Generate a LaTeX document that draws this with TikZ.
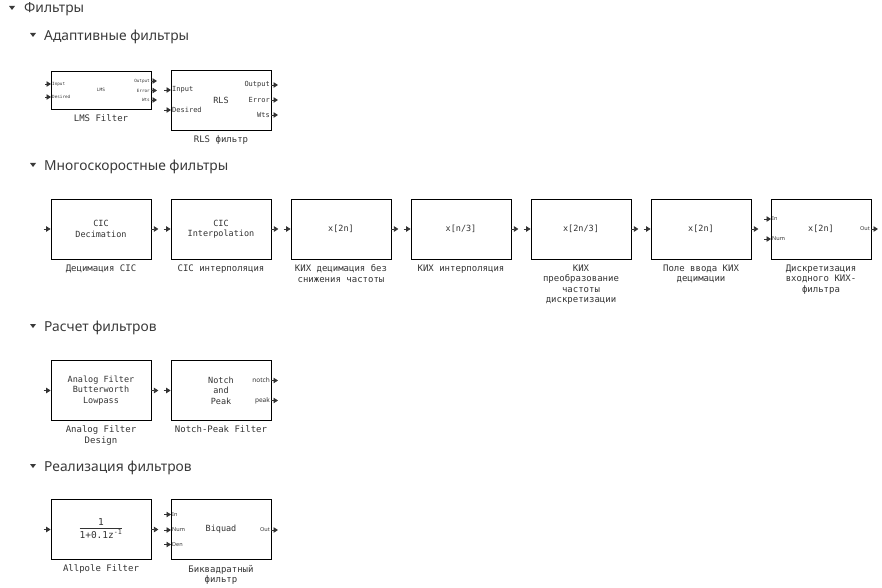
\documentclass[tikz,border=0pt]{standalone}
\usepackage{fontspec}
\usepackage{xcolor}
\usepackage{tikz}
\usetikzlibrary{arrows.meta,positioning}
\setmonofont{DejaVu Sans Mono}
\newfontfamily\headfont{Noto Sans}
\newfontfamily\pinfont{Noto Sans}
\definecolor{fbInk}{HTML}{333333}
\definecolor{fbHead}{HTML}{3A3A3A}
\tikzset{
  fb diagram/.style={x=1pt, y=-1pt, text=fbInk,
    line cap=butt, line join=miter},
  fb head/.style={font=\headfont\fontsize{13.8}{16}\selectfont, text=fbHead,
    anchor=west, inner sep=0pt},
  fb mark/.style={fill=fbHead},
  fb box/.style={draw=black, fill=white, line width=0.8pt,
    minimum width=100pt, minimum height=60pt, inner sep=0pt,
    align=center, font=\ttfamily\fontsize{8.5}{10.5}\selectfont},
  fb caption/.style={font=\ttfamily\fontsize{9}{10.6}\selectfont,
    align=center, inner sep=0pt},
  fb pin/.style={font=\ttfamily\fontsize{7}{8}\selectfont, inner sep=1pt},
  fb tiny pin/.style={font=\ttfamily\fontsize{4.3}{5}\selectfont, inner sep=1pt},
  fb small pin/.style={font=\pinfont\fontsize{5.5}{6}\selectfont, inner sep=1pt},
  fb port/.style={-{Triangle[length=4.5pt,width=5.5pt]}, draw=fbInk,
    line width=0.8pt}
}
\begin{document}
\begin{tikzpicture}[fb diagram]
\useasboundingbox (0,0) rectangle (882,588);

% headings
\fill[fb mark] (9,6) -- (15,6) -- (12,10) -- cycle;
\node[fb head] (hall) at (24,9.5) {Фильтры};
\fill[fb mark] (30,33) -- (36,33) -- (33,37) -- cycle;
\node[fb head] (hadapt) at (44,36.5) {Адаптивные фильтры};
\fill[fb mark] (30,163) -- (36,163) -- (33,167) -- cycle;
\node[fb head] (hmulti) at (44,166.5) {Многоскоростные фильтры};
\fill[fb mark] (30,324) -- (36,324) -- (33,328) -- cycle;
\node[fb head] (hdesign) at (44,327.5) {Расчет фильтров};
\fill[fb mark] (30,464) -- (36,464) -- (33,468) -- cycle;
\node[fb head] (himpl) at (44,467.5) {Реализация фильтров};

% adaptive filters
\node[fb box, minimum height=38pt, font=\ttfamily\fontsize{4.5}{5}\selectfont] (lms) at (101,90) {LMS};
\node[fb caption, below=5pt of lms] (lmscap) {LMS Filter};
\node[fb tiny pin, anchor=west] (lmsin) at (51,84) {Input};
\node[fb tiny pin, anchor=west] (lmsdes) at (51,97) {Desired};
\node[fb tiny pin, anchor=east] (lmsout) at (151,81) {Output};
\node[fb tiny pin, anchor=east] (lmserr) at (151,90.5) {Error};
\node[fb tiny pin, anchor=east] (lmswts) at (151,100) {Wts};
\draw[fb port] ([xshift=-6pt]lmsin.west) -- (lmsin.west);
\draw[fb port] ([xshift=-6pt]lmsdes.west) -- (lmsdes.west);
\draw[fb port] (lmsout.east) -- ([xshift=6pt]lmsout.east);
\draw[fb port] (lmserr.east) -- ([xshift=6pt]lmserr.east);
\draw[fb port] (lmswts.east) -- ([xshift=6pt]lmswts.east);

\node[fb box] (rls) at (221,100) {RLS};
\node[fb caption, below=5pt of rls] (rlscap) {RLS фильтр};
\node[fb pin, anchor=west] (rlsin) at (171,90) {Input};
\node[fb pin, anchor=west] (rlsdes) at (171,110) {Desired};
\node[fb pin, anchor=east] (rlsout) at (271,85) {Output};
\node[fb pin, anchor=east] (rlserr) at (271,100) {Error};
\node[fb pin, anchor=east] (rlswts) at (271,115) {Wts};
\draw[fb port] ([xshift=-7pt]rlsin.west) -- (rlsin.west);
\draw[fb port] ([xshift=-7pt]rlsdes.west) -- (rlsdes.west);
\draw[fb port] (rlsout.east) -- ([xshift=7pt]rlsout.east);
\draw[fb port] (rlserr.east) -- ([xshift=7pt]rlserr.east);
\draw[fb port] (rlswts.east) -- ([xshift=7pt]rlswts.east);

% multirate filters
\node[fb box] (cicdec) at (101,229) {CIC\\Decimation};
\node[fb box] (cicint) at (221,229) {CIC\\Interpolation};
\node[fb box] (firdec) at (341,229) {x[2n]};
\node[fb box] (firint) at (461,229) {x[n/3]};
\node[fb box] (firsrc) at (581,229) {x[2n/3]};
\node[fb box] (firdin) at (701,229) {x[2n]};
\node[fb box] (firsmp) at (821,229) {x[2n]};
\node[fb caption, below=5pt of cicdec] (cicdeccap) {Децимация CIC};
\node[fb caption, below=5pt of cicint] (cicintcap) {CIC интерполяция};
\node[fb caption, below=5pt of firdec] (firdeccap) {КИХ децимация без\\снижения частоты};
\node[fb caption, below=5pt of firint] (firintcap) {КИХ интерполяция};
\node[fb caption, below=5pt of firsrc] (firsrccap) {КИХ\\преобразование\\частоты\\дискретизации};
\node[fb caption, below=5pt of firdin] (firdincap) {Поле ввода КИХ\\децимации};
\node[fb caption, below=5pt of firsmp] (firsmpcap) {Дискретизация\\входного КИХ-\\фильтра};
\draw[fb port] ([xshift=-7pt]cicdec.west) -- (cicdec.west);
\draw[fb port] (cicdec.east) -- ([xshift=7pt]cicdec.east);
\draw[fb port] ([xshift=-7pt]cicint.west) -- (cicint.west);
\draw[fb port] (cicint.east) -- ([xshift=7pt]cicint.east);
\draw[fb port] ([xshift=-7pt]firdec.west) -- (firdec.west);
\draw[fb port] (firdec.east) -- ([xshift=7pt]firdec.east);
\draw[fb port] ([xshift=-7pt]firint.west) -- (firint.west);
\draw[fb port] (firint.east) -- ([xshift=7pt]firint.east);
\draw[fb port] ([xshift=-7pt]firsrc.west) -- (firsrc.west);
\draw[fb port] (firsrc.east) -- ([xshift=7pt]firsrc.east);
\draw[fb port] ([xshift=-7pt]firdin.west) -- (firdin.west);
\draw[fb port] (firdin.east) -- ([xshift=7pt]firdin.east);
\node[fb small pin, anchor=west] (smpin) at (771,219) {In};
\node[fb small pin, anchor=west] (smpnum) at (771,239) {Num};
\node[fb small pin, anchor=east] (smpout) at (871,229) {Out};
\draw[fb port] ([xshift=-7pt]smpin.west) -- (smpin.west);
\draw[fb port] ([xshift=-7pt]smpnum.west) -- (smpnum.west);
\draw[fb port] (smpout.east) -- ([xshift=7pt]smpout.east);

% filter design
\node[fb box] (analog) at (101,390.5) {Analog Filter\\Butterworth\\Lowpass};
\node[fb caption, below=5pt of analog] (analogcap) {Analog Filter\\Design};
\draw[fb port] ([xshift=-7pt]analog.west) -- (analog.west);
\draw[fb port] (analog.east) -- ([xshift=7pt]analog.east);
\node[fb box] (notch) at (221,390.5) {Notch\\and\\Peak};
\node[fb caption, below=5pt of notch] (notchcap) {Notch-Peak Filter};
\node[fb small pin, anchor=east, font=\pinfont\fontsize{6.5}{7}\selectfont] (notchout) at (271,380.5) {notch};
\node[fb small pin, anchor=east, font=\pinfont\fontsize{6.5}{7}\selectfont] (peakout) at (271,400.5) {peak};
\draw[fb port] ([xshift=-7pt]notch.west) -- (notch.west);
\draw[fb port] (notchout.east) -- ([xshift=7pt]notchout.east);
\draw[fb port] (peakout.east) -- ([xshift=7pt]peakout.east);

% filter implementation
\node[fb box, font=\ttfamily\fontsize{9.5}{11}\selectfont] (allpole) at (101,529.5) {\begin{tabular}{@{}c@{}}1\\[-1pt]\hline\rule{0pt}{10pt}1+0.1z\textsuperscript{-1}\end{tabular}};
\node[fb caption, below=5pt of allpole] (allpolecap) {Allpole Filter};
\draw[fb port] ([xshift=-7pt]allpole.west) -- (allpole.west);
\draw[fb port] (allpole.east) -- ([xshift=7pt]allpole.east);
\node[fb box] (biquad) at (221,529.5) {Biquad};
\node[fb caption, below=5pt of biquad] (biquadcap) {Биквадратный\\фильтр};
\node[fb small pin, anchor=west] (bqin) at (171,514.5) {In};
\node[fb small pin, anchor=west] (bqnum) at (171,530) {Num};
\node[fb small pin, anchor=west] (bqden) at (171,544.5) {Den};
\node[fb small pin, anchor=east] (bqout) at (271,530) {Out};
\draw[fb port] ([xshift=-7pt]bqin.west) -- (bqin.west);
\draw[fb port] ([xshift=-7pt]bqnum.west) -- (bqnum.west);
\draw[fb port] ([xshift=-7pt]bqden.west) -- (bqden.west);
\draw[fb port] (bqout.east) -- ([xshift=7pt]bqout.east);
\end{tikzpicture}
\end{document}
